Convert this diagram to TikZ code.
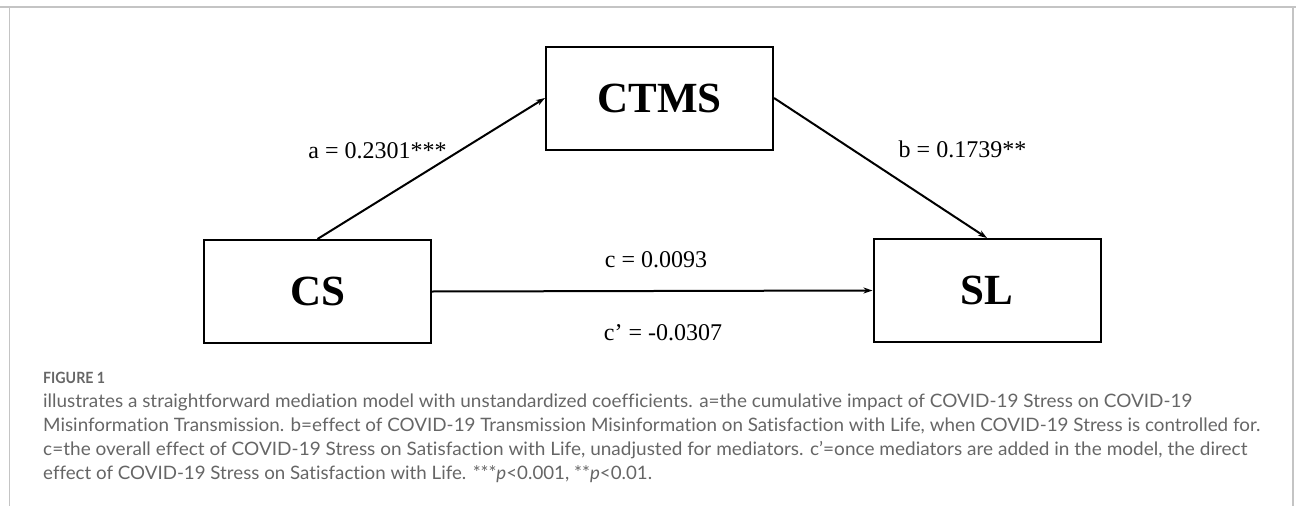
\documentclass[tikz,border=0pt]{standalone}
\usepackage{graphicx}
\usepackage{fontspec}
\setmainfont{Liberation Serif}
\newfontfamily\capfont[Ligatures=NoCommon]{Lato}
\usetikzlibrary{arrows.meta}
\definecolor{framegray}{HTML}{C4C4C4}
\definecolor{capgray}{HTML}{666666}
\newcommand{\fitw}[2]{\resizebox{#1}{\height}{#2}}
\tikzset{
  varbox/.style={draw, line width=2pt, minimum width=227pt, minimum height=103pt, inner sep=0pt,
    font=\fontsize{43}{50}\selectfont\bfseries},
  conn/.style={line width=2pt, -{Stealth[length=9pt,width=6pt]}},
  coef/.style={anchor=base, inner sep=0pt, font=\fontsize{24}{28}\selectfont},
  capline/.style={anchor=base west, inner sep=0pt, text=capgray, font=\capfont\fontsize{18.5}{24}\selectfont},
  frame/.style={draw=framegray, line width=1.5pt}
}
\begin{document}
\begin{tikzpicture}[x=1pt,y=-1pt]
\useasboundingbox (0,0) rectangle (1296,506);
% frame
\draw[frame] (0,7) -- (1296,7);
\draw[frame] (9.5,7) -- (9.5,506);
\draw[frame] (1293,7) -- (1293,506);
% boxes
\node[varbox] (ctms) at (659.5,98) {CTMS};
\node[varbox] (cs) at (317.5,291.5) {CS};
\node[varbox] (sl) at (987,290.5) {SL};
% connectors
\draw[conn] (cs.north) -- (ctms.west);
\draw[conn] (ctms.east) -- (sl.north);
\draw[conn] (cs.east) -- (sl.west);
% coefficients
\node[coef] (la) at (377.5,158) {a = 0.2301***};
\node[coef] (lb) at (962.5,157) {b = 0.1739**};
\node[coef] (lc) at (656,267) {c = 0.0093};
\node[coef] (lcp) at (663,340) {c’ = -0.0307};
% caption
\node[capline, font=\capfont\fontsize{15.5}{18}\selectfont\bfseries] (fig) at (43,383) {\fitw{62pt}{FIGURE 1}};
\node[capline] (c1) at (43,407) {\fitw{1149pt}{illustrates a straightforward mediation model with unstandardized coefficients. a=the cumulative impact of COVID-19 Stress on COVID-19}};
\node[capline] (c2) at (43,431) {\fitw{1217pt}{Misinformation Transmission. b=effect of COVID-19 Transmission Misinformation on Satisfaction with Life, when COVID-19 Stress is controlled for.}};
\node[capline] (c3) at (43,455) {\fitw{1204pt}{c=the overall effect of COVID-19 Stress on Satisfaction with Life, unadjusted for mediators. c’=once mediators are added in the model, the direct}};
\node[capline] (c4) at (43,479) {\fitw{609pt}{effect of COVID-19 Stress on Satisfaction with Life. ***\textit{p}<0.001, **\textit{p}<0.01.}};
\end{tikzpicture}
\end{document}
